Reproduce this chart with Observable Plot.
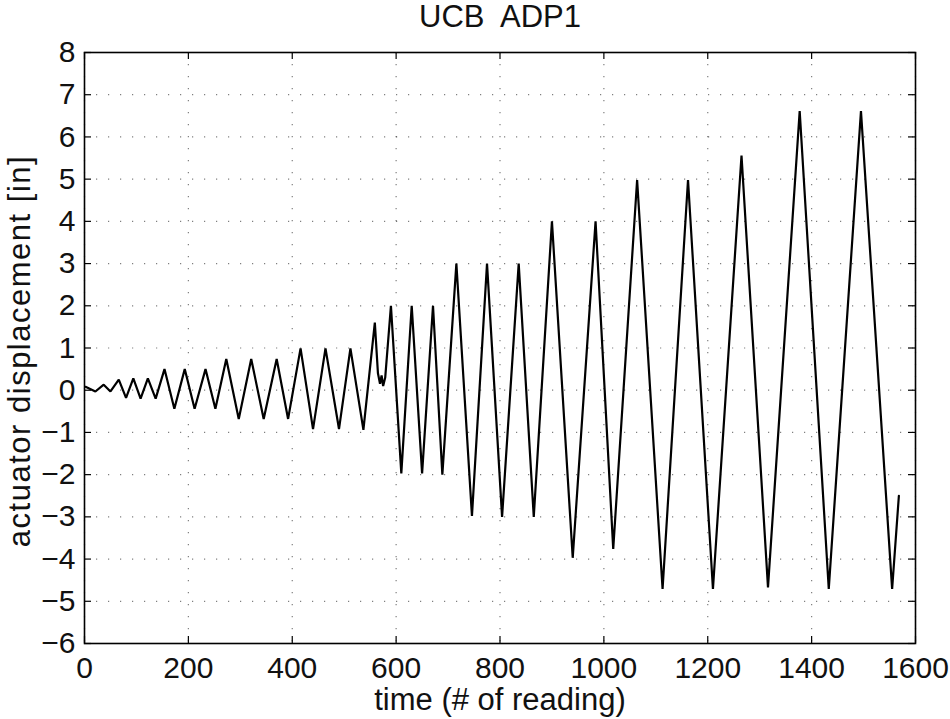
<!DOCTYPE html>
<html>
<head>
<meta charset="utf-8">
<script src="https://cdn.jsdelivr.net/npm/d3@7"></script>
<script src="https://cdn.jsdelivr.net/npm/@observablehq/plot@0.6"></script>
<style>
  html, body { margin: 0; padding: 0; background: #fff; }
</style>
</head>
<body>
<div id="chart"></div>
<script>
const titleText = "UCB  ADP1";
const xLabel = "time (# of reading)";
const yLabel = "actuator displacement [in]";
const xTicks = [0, 200, 400, 600, 800, 1000, 1200, 1400, 1600];
const yTicks = [-6, -5, -4, -3, -2, -1, 0, 1, 2, 3, 4, 5, 6, 7, 8];

const time = [2, 21, 37, 50, 66, 80, 94, 108, 122, 137, 154, 173, 193, 212, 233, 252,
  273, 297, 321, 345, 370, 392, 416, 440, 464, 490, 512, 537, 559, 565, 569, 572, 575, 579,
  590, 610, 630, 650, 671, 689, 716, 746, 775, 804, 836, 865, 900, 940, 984, 1018,
  1064, 1113, 1162, 1210, 1265, 1316, 1377, 1433, 1495, 1555, 1568];
const displacement = [0.08, -0.03, 0.13, -0.03, 0.25, -0.18, 0.28, -0.2, 0.28, -0.2, 0.5, -0.44, 0.5, -0.44, 0.5, -0.44,
  0.74, -0.68, 0.74, -0.68, 0.74, -0.68, 0.99, -0.92, 0.99, -0.92, 0.99, -0.94, 1.6, 0.4, 0.15, 0.35, 0.1, 0.3,
  2.0, -1.97, 2.0, -1.97, 2.0, -2.0, 3.0, -2.98, 3.0, -3.0, 3.0, -3.0, 4.0, -3.97, 4.0, -3.76,
  4.98, -4.71, 4.98, -4.71, 5.56, -4.67, 6.61, -4.71, 6.61, -4.71, -2.5];

const data = time.map((t, i) => ({t, v: displacement[i]}));
const fmt = d => d < 0 ? "\u2212" + (-d) : String(d);

const xMin = 0, xMax = 1600, yMin = -6, yMax = 8;
const tickLenY = 7 / 42.2;   // tick length in y units
const tickLenX = 7 / 0.519;  // tick length in x units

const plot = Plot.plot({
  width: 950,
  height: 719,
  marginLeft: 84,
  marginRight: 35,
  marginTop: 52,
  marginBottom: 76,
  style: {fontFamily: "'Liberation Sans', Arial, Helvetica, sans-serif", background: "#fff", color: "#111"},
  x: {domain: [xMin, xMax]},
  y: {domain: [yMin, yMax]},
  marks: [
    Plot.gridX(xTicks, {stroke: "#000", strokeOpacity: 0.5, strokeWidth: 1.2, strokeDasharray: "1.2,10.8"}),
    Plot.gridY(yTicks, {stroke: "#000", strokeOpacity: 0.5, strokeWidth: 1.2, strokeDasharray: "1.2,10.8"}),
    Plot.ruleX(xTicks, {x: d => d, y1: yMin, y2: yMin + tickLenY, stroke: "#000", strokeWidth: 1.2}),
    Plot.ruleX(xTicks, {x: d => d, y1: yMax, y2: yMax - tickLenY, stroke: "#000", strokeWidth: 1.2}),
    Plot.ruleY(yTicks, {y: d => d, x1: xMin, x2: xMin + tickLenX, stroke: "#000", strokeWidth: 1.2}),
    Plot.ruleY(yTicks, {y: d => d, x1: xMax, x2: xMax - tickLenX, stroke: "#000", strokeWidth: 1.2}),
    Plot.line(data, {x: "t", y: "v", stroke: "#000", strokeWidth: 2.2, strokeLinejoin: "miter"}),
    Plot.frame({stroke: "#000", strokeWidth: 1.6}),
    Plot.axisX({ticks: xTicks, tickSize: 0, tickPadding: 13, fontSize: 30, tickFormat: fmt, label: null}),
    Plot.axisY({ticks: yTicks, tickSize: 0, tickPadding: 9, fontSize: 30, tickFormat: fmt, label: null}),
    Plot.text([titleText], {frameAnchor: "top", lineAnchor: "middle", dy: -35, fontSize: 31, fill: "#111"}),
    Plot.text([xLabel], {frameAnchor: "bottom", lineAnchor: "middle", dy: 57, fontSize: 31, fill: "#111"}),
    Plot.text([yLabel], {frameAnchor: "left", textAnchor: "middle", lineAnchor: "middle", rotate: -90, dx: -64, dy: 3, fontSize: 31, fill: "#111", className: "ylabel"})
  ]
});
d3.select(plot).selectAll(".ylabel text").style("letter-spacing", "1.5px");
document.getElementById("chart").appendChild(plot);
</script>
</body>
</html>
